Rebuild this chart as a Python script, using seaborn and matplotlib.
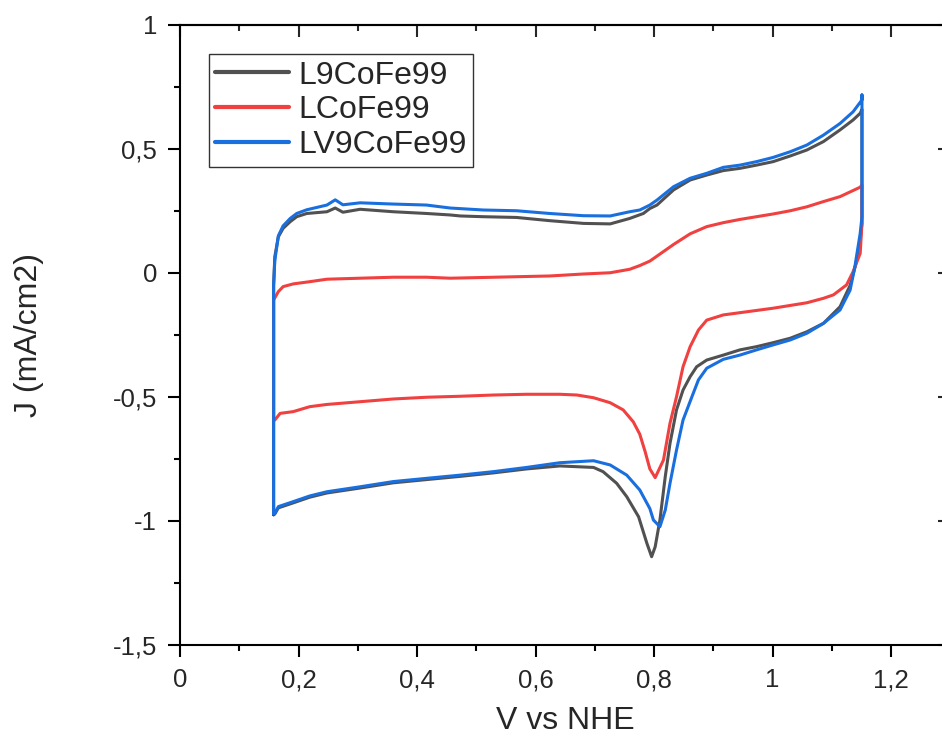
import numpy as np
import pandas as pd
import matplotlib
matplotlib.use('Agg')
import matplotlib.pyplot as plt
from matplotlib.ticker import MultipleLocator, FuncFormatter
import seaborn as sns

# values (V vs NHE, J in mA/cm2), loop order
v_l9 = [0.158, 0.158, 0.158, 0.160, 0.166, 0.174, 0.186, 0.197, 0.214, 0.248, 0.262, 0.275,
        0.304, 0.360, 0.416, 0.456, 0.473, 0.512, 0.568, 0.624, 0.681, 0.726, 0.759, 0.782,
        0.793, 0.805, 0.833, 0.861, 0.889, 0.917, 0.945, 0.973, 1.001, 1.030, 1.058, 1.086,
        1.114, 1.136, 1.148, 1.151,
        1.151, 1.151, 1.148, 1.140, 1.131, 1.114, 1.086, 1.058, 1.030, 1.001, 0.973, 0.945,
        0.917, 0.889, 0.872, 0.861, 0.849, 0.838, 0.827, 0.819, 0.810, 0.802, 0.796, 0.788,
        0.774, 0.754, 0.737, 0.714, 0.698, 0.641, 0.585, 0.529, 0.473, 0.416, 0.360, 0.304,
        0.248, 0.219, 0.191, 0.166, 0.160, 0.158]
j_l9 = [-0.975, -0.50, -0.05, 0.066, 0.146, 0.180, 0.207, 0.227, 0.240, 0.247, 0.262, 0.245,
        0.257, 0.247, 0.240, 0.234, 0.230, 0.227, 0.224, 0.211, 0.200, 0.198, 0.220, 0.240,
        0.260, 0.274, 0.335, 0.375, 0.395, 0.413, 0.422, 0.435, 0.449, 0.472, 0.496, 0.530,
        0.577, 0.617, 0.644, 0.660,
        0.400, 0.200, 0.130, 0.030, -0.050, -0.136, -0.203, -0.237, -0.263, -0.281, -0.297, -0.310,
        -0.331, -0.351, -0.378, -0.418, -0.472, -0.552, -0.687, -0.821, -0.996, -1.104, -1.144, -1.090,
        -0.983, -0.902, -0.848, -0.801, -0.784, -0.778, -0.790, -0.806, -0.820, -0.833, -0.846, -0.867,
        -0.887, -0.904, -0.927, -0.947, -0.972, -0.975]

v_lco = [0.158, 0.158, 0.158, 0.166, 0.174, 0.191, 0.219, 0.248, 0.304, 0.360, 0.416, 0.456,
         0.512, 0.568, 0.624, 0.681, 0.726, 0.759, 0.776, 0.793, 0.805, 0.833, 0.861, 0.889,
         0.917, 0.945, 0.973, 1.001, 1.030, 1.058, 1.086, 1.114, 1.148, 1.151,
         1.151, 1.148, 1.136, 1.125, 1.103, 1.086, 1.058, 1.001, 0.945, 0.917, 0.889, 0.875,
         0.861, 0.849, 0.838, 0.827, 0.816, 0.802, 0.793, 0.785, 0.776, 0.765, 0.748, 0.726,
         0.698, 0.670, 0.641, 0.585, 0.529, 0.473, 0.416, 0.360, 0.304, 0.248, 0.219, 0.191,
         0.169, 0.160, 0.158]
j_lco = [-0.593, -0.30, -0.109, -0.075, -0.055, -0.044, -0.035, -0.025, -0.021, -0.017, -0.017, -0.021,
         -0.018, -0.015, -0.012, -0.004, 0.001, 0.015, 0.030, 0.048, 0.068, 0.115, 0.158, 0.187,
         0.203, 0.216, 0.227, 0.238, 0.251, 0.267, 0.288, 0.308, 0.346, 0.355,
         0.200, 0.079, 0.005, -0.048, -0.088, -0.102, -0.120, -0.142, -0.160, -0.169, -0.190, -0.230,
         -0.297, -0.378, -0.499, -0.606, -0.754, -0.825, -0.790, -0.720, -0.650, -0.600, -0.552, -0.523,
         -0.503, -0.492, -0.489, -0.489, -0.492, -0.497, -0.501, -0.508, -0.519, -0.530, -0.539, -0.559,
         -0.566, -0.593, -0.593]

v_lv9 = [0.158, 0.158, 0.158, 0.160, 0.166, 0.174, 0.186, 0.197, 0.214, 0.248, 0.262, 0.275,
         0.304, 0.360, 0.416, 0.456, 0.512, 0.568, 0.624, 0.681, 0.726, 0.759, 0.776, 0.793,
         0.805, 0.833, 0.861, 0.889, 0.917, 0.945, 0.973, 1.001, 1.030, 1.058, 1.086, 1.114,
         1.136, 1.151, 1.151,
         1.151, 1.151, 1.148, 1.139, 1.131, 1.114, 1.086, 1.058, 1.030, 1.001, 0.973, 0.945,
         0.917, 0.889, 0.875, 0.864, 0.849, 0.838, 0.827, 0.819, 0.810, 0.799, 0.793, 0.776,
         0.754, 0.726, 0.698, 0.641, 0.585, 0.529, 0.473, 0.416, 0.360, 0.304, 0.248, 0.219,
         0.191, 0.166, 0.160, 0.158]
j_lv9 = [-0.970, -0.50, -0.05, 0.050, 0.150, 0.190, 0.220, 0.240, 0.255, 0.274, 0.295, 0.275,
         0.283, 0.278, 0.274, 0.262, 0.254, 0.251, 0.240, 0.231, 0.230, 0.247, 0.254, 0.274,
         0.294, 0.348, 0.382, 0.402, 0.426, 0.435, 0.449, 0.466, 0.489, 0.516, 0.556, 0.603,
         0.650, 0.698, 0.718,
         0.450, 0.227, 0.160, 0.025, -0.069, -0.149, -0.203, -0.243, -0.270, -0.290, -0.310, -0.331,
         -0.348, -0.384, -0.431, -0.499, -0.593, -0.714, -0.848, -0.956, -1.023, -0.996, -0.950, -0.875,
         -0.815, -0.774, -0.757, -0.765, -0.784, -0.801, -0.815, -0.828, -0.841, -0.862, -0.882, -0.899,
         -0.922, -0.942, -0.969, -0.970]

names = ['L9CoFe99', 'LCoFe99', 'LV9CoFe99']
colors = ['#515151', '#F14040', '#1A6FDF']

frames = []
for name, v, j in zip(names, [v_l9, v_lco, v_lv9], [j_l9, j_lco, j_lv9]):
    frames.append(pd.DataFrame({'V': v, 'J': j, 'sample': name}))
df = pd.concat(frames, ignore_index=True)

sns.set_style('ticks')
plt.rcParams['font.family'] = ['Liberation Sans', 'DejaVu Sans']

fig = plt.figure(figsize=(9.42, 7.38), dpi=100)
ax = fig.add_axes([180 / 942, 93 / 738, 770.25 / 942, 620 / 738])

sns.lineplot(data=df, x='V', y='J', hue='sample', palette=colors, hue_order=names,
             sort=False, estimator=None, linewidth=2.2, ax=ax)

ax.set_xlim(0, 1.3)
ax.set_ylim(-1.5, 1)

fmt = FuncFormatter(lambda v, p: f'{round(v, 2) + 0.0:g}'.replace('.', ','))
ax.xaxis.set_major_locator(MultipleLocator(0.2))
ax.xaxis.set_minor_locator(MultipleLocator(0.1))
ax.yaxis.set_major_locator(MultipleLocator(0.5))
ax.yaxis.set_minor_locator(MultipleLocator(0.25))
ax.xaxis.set_major_formatter(fmt)
ax.yaxis.set_major_formatter(fmt)

ax.tick_params(which='both', direction='out', width=1.5, color='black',
               labelsize=18.5, pad=8)
ax.tick_params(which='major', length=8.6)
ax.tick_params(which='minor', length=4.3)
for s in ax.spines.values():
    s.set_linewidth(1.5)
    s.set_color('black')

top = ax.secondary_xaxis('top')
top.xaxis.set_major_locator(MultipleLocator(0.2))
top.xaxis.set_minor_locator(MultipleLocator(0.1))
top.tick_params(which='both', direction='in', width=1.5, labeltop=False)
top.tick_params(which='major', length=8.4)
top.tick_params(which='minor', length=4.2)
top.spines['top'].set_linewidth(1.5)

right = ax.secondary_yaxis('right')
right.yaxis.set_major_locator(MultipleLocator(0.5))
right.yaxis.set_minor_locator(MultipleLocator(0.25))
right.tick_params(which='both', direction='in', width=1.5, labelright=False)
right.tick_params(which='major', length=8.4)
right.tick_params(which='minor', length=4.2)
right.spines['right'].set_linewidth(1.5)

ax.set_xlabel('V vs NHE', fontsize=23)
ax.set_ylabel('J (mA/cm2)', fontsize=23)
ax.xaxis.set_label_coords(0.5, -0.098)
ax.yaxis.set_label_coords(-0.176, 0.5)

leg = ax.legend(loc='upper left', bbox_to_anchor=(0.0377, 0.953), borderaxespad=0,
                fontsize=23, frameon=True, fancybox=False, edgecolor='black',
                handlelength=2.3, handletextpad=0.3, borderpad=0.2, labelspacing=0.15)
leg.get_frame().set_linewidth(1.0)
for h in leg.get_lines():
    h.set_linewidth(3)

fig.savefig('out.png', dpi=100)
